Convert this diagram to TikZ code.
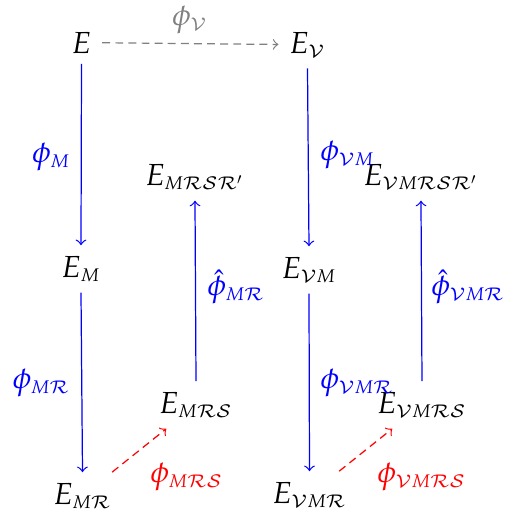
\documentclass[tikz,border=0pt]{standalone}
\usepackage{mathpazo}
\DeclareMathAlphabet{\mathcal}{OMS}{cmsy}{m}{n}
\DeclareMathSizes{10}{10}{6}{5}
\begin{document}
\begin{tikzpicture}[x=0.328pt,y=-0.328pt,
  obj/.style={anchor=base,inner sep=3.33pt},
  lbl/.style={inner sep=0pt},
  mainarrow/.style={draw=blue,->,line width=0.4pt},
  redarrow/.style={draw=red,->,line width=0.4pt,dash pattern=on 2.6pt off 1.7pt},
  grayarrow/.style={draw=gray,->,line width=0.4pt,dash pattern=on 2.6pt off 1.7pt}]
\useasboundingbox (0,0) rectangle (509,516);
% objects
\node[obj] (E) at (81.5,53) {$E$};
\node[obj] (EV) at (307.5,53) {$E_{\mathcal{V}}$};
\node[obj] (EM) at (81,277) {$E_{M}$};
\node[obj] (EMR) at (82.5,504) {$E_{M\mathcal{R}}$};
\node[obj] (EVM) at (309,278) {$E_{\mathcal{V}M}$};
\node[obj] (EVMR) at (309.5,503) {$E_{\mathcal{V}M\mathcal{R}}$};
\node[obj] (EMRSR) at (195,185) {$E_{M\mathcal{R}\mathcal{S}\mathcal{R}'}$};
\node[obj] (EVMRSR) at (421,185) {$E_{\mathcal{V}M\mathcal{R}\mathcal{S}\mathcal{R}'}$};
\node[obj] (EMRS) at (196,413) {$E_{M\mathcal{R}\mathcal{S}}$};
\node[obj] (EVMRS) at (422,413) {$E_{\mathcal{V}M\mathcal{R}\mathcal{S}}$};
% connectors
\draw[grayarrow] (E) -- (EV);
\draw[mainarrow] (E.south) -- (EM.north);
\draw[mainarrow] (EM.south) -- (EMR.north);
\draw[mainarrow] (EV.south) -- (EVM.north);
\draw[mainarrow] (EVM.south) -- (EVMR.north);
\draw[mainarrow] (EMRS.north) -- (EMRSR.south);
\draw[mainarrow] (EVMRS.north) -- (EVMRSR.south);
\draw[redarrow] (EMR) -- (EMRS);
\draw[redarrow] (EVMR) -- (EVMRS);
% labels
\node[lbl,anchor=center,text=gray] (lV) at (190,20) {$\phi_{\mathcal{V}}$};
\node[lbl,anchor=east,text=blue] (lM) at (71,157) {$\phi_{M}$};
\node[lbl,anchor=east,text=blue] (lMR) at (71,383) {$\phi_{M\mathcal{R}}$};
\node[lbl,anchor=west,text=blue] (lVM) at (320,155) {$\phi_{\mathcal{V}M}$};
\node[lbl,anchor=west,text=blue] (lVMR) at (320,383) {$\phi_{\mathcal{V}M\mathcal{R}}$};
\node[lbl,anchor=west,text=blue] (lhMR) at (207,287) {$\hat{\phi}_{M\mathcal{R}}$};
\node[lbl,anchor=west,text=blue] (lhVMR) at (431,287) {$\hat{\phi}_{\mathcal{V}M\mathcal{R}}$};
\node[lbl,anchor=west,text=red] (lMRS) at (150,477) {$\phi_{M\mathcal{R}\mathcal{S}}$};
\node[lbl,anchor=west,text=red] (lVMRS) at (377,477) {$\phi_{\mathcal{V}M\mathcal{R}\mathcal{S}}$};
\end{tikzpicture}
\end{document}
